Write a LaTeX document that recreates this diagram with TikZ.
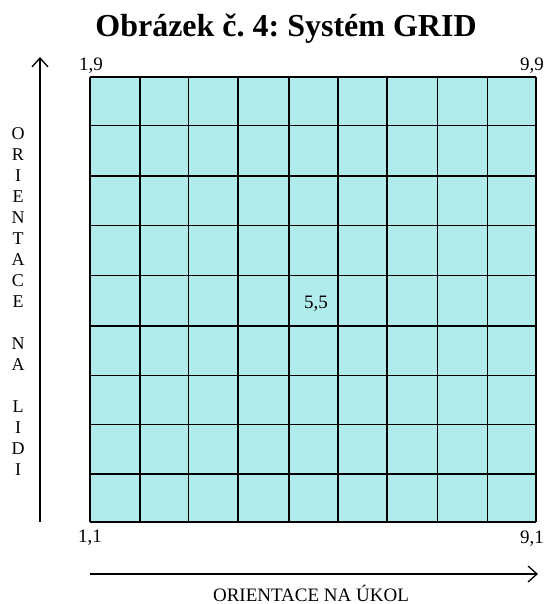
\documentclass[tikz,border=0pt]{standalone}
\usepackage{fontspec}
\setmainfont{Liberation Serif}
\usetikzlibrary{arrows.meta}
\definecolor{cellcyan}{RGB}{176,236,236}
\tikzset{
  gridline/.style={line width=1.6pt, black},
  axisarrow/.style={line width=1.3pt, -{Straight Barb[length=9pt,width=16pt,line width=1.3pt]}},
  corner/.style={font=\fontsize{19}{21}\selectfont, inner sep=0pt, anchor=base},
}
\begin{document}
\frenchspacing
\begin{tikzpicture}[x=1pt,y=-1pt]
\useasboundingbox (0,0) rectangle (545,604);
\node[font=\fontsize{32}{36}\selectfont\bfseries, inner sep=0pt, anchor=base] (title) at (286,37) {Obrázek č. 4: Systém GRID};
\fill[cellcyan] (90,77) rectangle (536,522);
\foreach \x in {90,140,188.5,238,289,338,387,437.5,487.5,536} {
  \draw[gridline] (\x,77) -- (\x,522);
}
\foreach \y in {77,125.5,176,225.5,275.5,326,375.5,424.5,474,522} {
  \draw[gridline] (90,\y) -- (536,\y);
}
\node[corner] (c19) at (91,71) {1,9};
\node[corner] (c99) at (532,71) {9,9};
\node[corner] (c11) at (90,542) {1,1};
\node[corner] (c91) at (532,543) {9,1};
\node[corner] (c55) at (316,308) {5,5};
\coordinate (vstart) at (40,522);
\coordinate (vend) at (40,57);
\draw[axisarrow] (vstart) -- (vend);
\coordinate (hstart) at (90,574);
\coordinate (hend) at (538,574);
\draw[axisarrow] (hstart) -- (hend);
\node[font=\fontsize{19}{21}\selectfont, inner sep=0pt, anchor=base] (xlabel) at (311,601) {ORIENTACE NA ÚKOL};
\node[font=\fontsize{18}{21}\selectfont, align=center, inner sep=0pt] (ylabel) at (18,302)
  {O\\R\\I\\E\\N\\T\\A\\C\\E\\ \\N\\A\\ \\L\\I\\D\\I};
\end{tikzpicture}
\end{document}
